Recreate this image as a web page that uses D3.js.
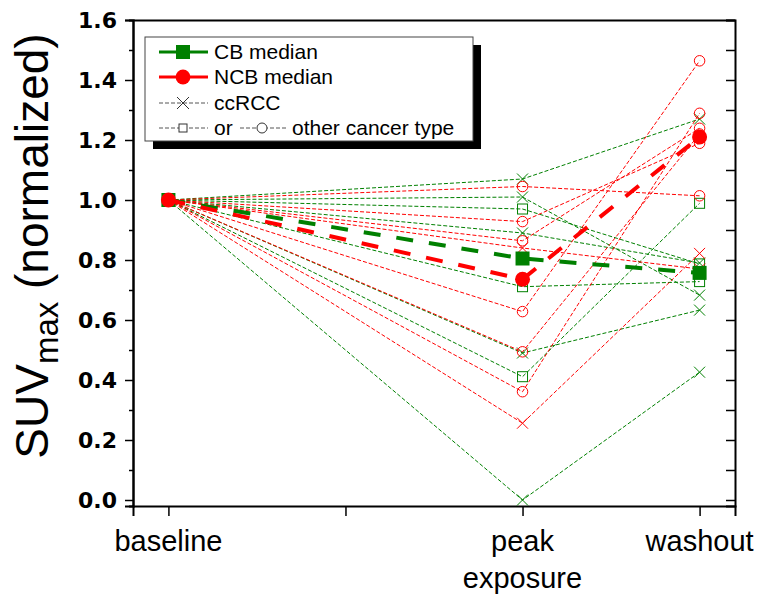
<!DOCTYPE html>
<html><head><meta charset="utf-8">
<script src="https://cdn.jsdelivr.net/npm/d3@7"></script>
<style>body{margin:0;background:#fff} svg{display:block}</style>
</head><body><svg id="c" width="762" height="599"></svg>
<script>
// ---- data ----
const xTickValues = [0, 1, 2, 3];
const xTickLabels = [["baseline"], [""], ["peak", "exposure"], ["washout"]];
const timeX = [0, 2, 3];               // baseline, peak exposure, washout
const yMajorTicks = [0, 0.2, 0.4, 0.6, 0.8, 1.0, 1.2, 1.4, 1.6];
const yMinorTicks = [0.1, 0.3, 0.5, 0.7, 0.9, 1.1, 1.3, 1.5];
const baselineValue = 1.0;

const cbMarkers  = ["x", "x", "square", "x", "square", "x", "square", "x"];
const cbPeak     = [1.07, 1.01, 0.97, 0.89, 0.711, 0.49, 0.411, 0.0];
const cbWashout  = [1.27, 0.683, 0.787, 0.79, 0.728, 0.633, 0.989, 0.426];

const ncbMarkers = ["circle", "circle", "circle", "x", "circle", "circle", "circle", "x"];
const ncbPeak    = [1.045, 0.928, 0.864, 0.84, 0.628, 0.494, 0.361, 0.256];
const ncbWashout = [1.014, 1.189, 1.239, 0.77, 1.464, 1.22, 1.289, 0.822];

const cbMedian  = [1.0, 0.805, 0.757];
const ncbMedian = [1.0, 0.736, 1.21];

const legendLabels = ["CB median", "NCB median", "ccRCC", "or", "other cancer type"];

// ---- drawing ----
const GREEN = "#008000", RED = "#ff0000";
const svg = d3.select("#c");
const x = d3.scaleLinear().domain([-0.2, 3.2]).range([133, 735]);
const y = d3.scaleLinear().domain([-0.02, 1.6]).range([506, 20]);

// axes
const gAxes = svg.append("g");
const yl = gAxes.append("g").attr("transform", `translate(${x(-0.2)},0)`)
  .call(d3.axisLeft(y).tickValues(yMajorTicks).tickSize(8).tickPadding(8).tickFormat(d3.format(".1f")));
yl.selectAll("text").attr("font-family", "DejaVu Sans").attr("font-weight", "bold").attr("font-size", 22).attr("fill", "#000");
gAxes.append("g").attr("transform", `translate(${x(-0.2)},0)`)
  .call(d3.axisLeft(y).tickValues(yMinorTicks).tickSize(4).tickFormat(""));
gAxes.append("g").attr("transform", `translate(${x(3.2)},0)`)
  .call(d3.axisRight(y).tickValues(yMajorTicks.concat(yMinorTicks)).tickSize(-9).tickFormat(""));
const xb = gAxes.append("g").attr("transform", `translate(0,${y(-0.02)})`)
  .call(d3.axisBottom(x).tickValues(xTickValues).tickSize(10).tickFormat(""));
gAxes.append("g").attr("transform", `translate(0,${y(1.6)})`)
  .call(d3.axisTop(x).tickValues([]).tickSize(0));
gAxes.selectAll(".domain").attr("stroke", "#000").attr("stroke-width", 2);
gAxes.selectAll(".tick line").attr("stroke", "#000").attr("stroke-width", 1.5);

// x labels
xTickValues.forEach((v, i) => {
  const t = svg.append("text").attr("x", x(v)).attr("y", 551)
    .attr("text-anchor", "middle").attr("font-family", "Liberation Sans, Arial").attr("font-size", 29);
  xTickLabels[i].forEach((s, k) => t.append("tspan").attr("x", x(v)).attr("dy", k === 0 ? 0 : 37).text(s));
});

// y title
const yt = svg.append("text").attr("transform", "translate(48,246) rotate(-90)")
  .attr("text-anchor", "middle").attr("font-family", "Liberation Sans, Arial").attr("font-size", 46);
yt.append("tspan").text("SUV");
yt.append("tspan").attr("font-size", 33).attr("dy", 10).text("max");
yt.append("tspan").attr("dy", -10).text(" (normalized)");

function marker(g, type, cx, cy, color, size, fill) {
  if (type === "x") {
    const h = size / 2;
    g.append("path").attr("d", `M${cx-h},${cy-h}L${cx+h},${cy+h}M${cx-h},${cy+h}L${cx+h},${cy-h}`)
      .attr("stroke", color).attr("stroke-width", 1).attr("fill", "none");
  } else if (type === "square") {
    g.append("rect").attr("x", cx - size / 2).attr("y", cy - size / 2).attr("width", size).attr("height", size)
      .attr("stroke", color).attr("stroke-width", 1).attr("fill", fill || "none");
  } else {
    g.append("circle").attr("cx", cx).attr("cy", cy).attr("r", size / 2)
      .attr("stroke", color).attr("stroke-width", 1).attr("fill", fill || "none");
  }
}

const line = d3.line().x(d => x(d[0])).y(d => y(d[1]));
function drawSubjects(peak, washout, markers, color) {
  const g = svg.append("g");
  peak.forEach((p, i) => {
    const vals = [baselineValue, p, washout[i]];
    const pts = vals.map((v, k) => [timeX[k], v]);
    g.append("path").attr("d", line(pts)).attr("fill", "none").attr("stroke", color)
      .attr("stroke-width", 1).attr("stroke-dasharray", "4,2");
    const size = markers[i] === "x" ? 11 : (markers[i] === "square" ? 10 : 10.5);
    pts.forEach(pt => marker(g, markers[i], x(pt[0]), y(pt[1]), color, size));
  });
}
drawSubjects(cbPeak, cbWashout, cbMarkers, GREEN);
drawSubjects(ncbPeak, ncbWashout, ncbMarkers, RED);

function drawMedian(vals, color, type) {
  const pts = vals.map((v, k) => [timeX[k], v]);
  svg.append("path").attr("d", line(pts)).attr("fill", "none").attr("stroke", color)
    .attr("stroke-width", 4).attr("stroke-dasharray", "17,16");
  pts.forEach(pt => {
    if (type === "square") svg.append("rect").attr("x", x(pt[0]) - 7).attr("y", y(pt[1]) - 7)
      .attr("width", 14).attr("height", 14).attr("fill", color);
    else svg.append("circle").attr("cx", x(pt[0])).attr("cy", y(pt[1])).attr("r", 7.5).attr("fill", color);
  });
}
drawMedian(cbMedian, GREEN, "square");
drawMedian(ncbMedian, RED, "circle");

// legend
const lg = svg.append("g");
lg.append("rect").attr("x", 153).attr("y", 45).attr("width", 328).attr("height", 104).attr("fill", "#000");
lg.append("rect").attr("x", 145).attr("y", 37).attr("width", 328).attr("height", 104)
  .attr("fill", "#fff").attr("stroke", "#444").attr("stroke-width", 1);
const lt = (tx, ty, s) => lg.append("text").attr("x", tx).attr("y", ty)
  .attr("font-family", "Liberation Sans, Arial").attr("font-size", 21).attr("fill", "#000").text(s);
// row 1
lg.append("line").attr("x1", 159).attr("x2", 208).attr("y1", 52).attr("y2", 52).attr("stroke", GREEN).attr("stroke-width", 3);
lg.append("rect").attr("x", 176).attr("y", 45).attr("width", 14).attr("height", 14).attr("fill", GREEN);
lt(214, 59, legendLabels[0]);
// row 2
lg.append("line").attr("x1", 159).attr("x2", 208).attr("y1", 77).attr("y2", 77).attr("stroke", RED).attr("stroke-width", 3);
lg.append("circle").attr("cx", 183).attr("cy", 77).attr("r", 7.4).attr("fill", RED);
lt(214, 84, legendLabels[1]);
// row 3
const dl = (x1, x2, yy) => lg.append("line").attr("x1", x1).attr("x2", x2).attr("y1", yy).attr("y2", yy)
  .attr("stroke", "#555").attr("stroke-width", 1).attr("stroke-dasharray", "4,2");
dl(159, 208, 103);
marker(lg, "x", 183, 103, "#333", 12, "#fff");
lt(214, 110, legendLabels[2]);
// row 4
dl(159, 208, 128);
marker(lg, "square", 183, 128, "#333", 8, "#fff");
lt(214, 135, legendLabels[3]);
dl(240, 286, 128);
marker(lg, "circle", 262, 128, "#333", 10, "#fff");
lt(292, 135, legendLabels[4]);
</script></body></html>
